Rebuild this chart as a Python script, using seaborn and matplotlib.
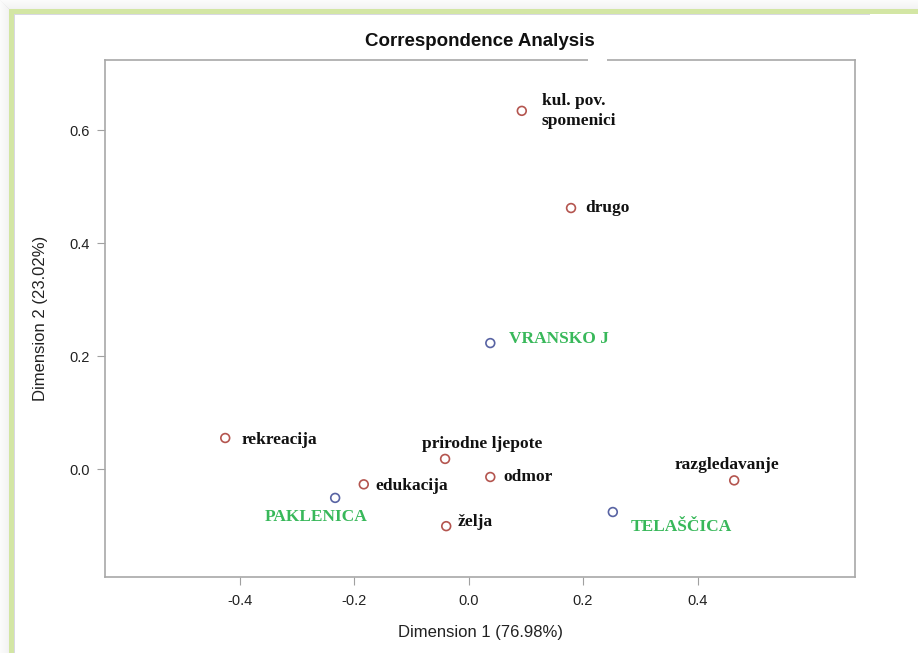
import matplotlib
matplotlib.use("Agg")
import matplotlib.pyplot as plt
from matplotlib.patches import Rectangle
import pandas as pd
import seaborn as sns

# Correspondence analysis coordinates
labels = ["kul. pov.\nspomenici", "drugo", "VRANSKO J", "rekreacija", "prirodne ljepote",
          "odmor", "edukacija", "PAKLENICA", "želja", "razgledavanje", "TELAŠČICA"]
dim1 = [0.093, 0.179, 0.038, -0.425, -0.041, 0.038, -0.183, -0.233, -0.039, 0.464, 0.252]
dim2 = [0.634, 0.462, 0.223, 0.055, 0.018, -0.014, -0.027, -0.051, -0.101, -0.020, -0.076]
kind = ["col", "col", "row", "col", "col", "col", "col", "row", "col", "col", "row"]

xticks = [-0.4, -0.2, 0.0, 0.2, 0.4]
yticks = [0.0, 0.2, 0.4, 0.6]

df = pd.DataFrame({"label": labels, "x": dim1, "y": dim2, "kind": kind})

# label placement: (dx px, dy px, horizontal alignment)
placement = {
    "kul. pov.\nspomenici": (20, 0, "left"),
    "drugo": (14, 0, "left"),
    "VRANSKO J": (19, 4, "left"),
    "rekreacija": (16, -2, "left"),
    "prirodne ljepote": (37, 15, "center"),
    "odmor": (13, 0, "left"),
    "edukacija": (12, -2, "left"),
    "PAKLENICA": (-19, -19, "center"),
    "želja": (11, 4, "left"),
    "razgledavanje": (-7, 15, "center"),
    "TELAŠČICA": (18, -15, "left"),
}

marker_colors = {"col": "#b4554f", "row": "#5863a3"}
green = "#38b85a"

sns.set_theme(style="white")
plt.rcParams["font.family"] = ["Liberation Sans", "DejaVu Sans"]

fig = plt.figure(figsize=(9.18, 6.53), dpi=100)
fig.patch.set_facecolor("white")
W, H = 918, 653
ax = fig.add_axes([105 / W, 1 - 577 / H, 750 / W, 517 / H])

sns.scatterplot(data=df, x="x", y="y", hue="kind", palette=marker_colors,
                marker="o", s=40, linewidth=1.2, legend=False, ax=ax, zorder=3)
coll = ax.collections[0]
coll.set_edgecolors(coll.get_facecolors())
coll.set_facecolors("none")

for lab, x, y, k in zip(labels, dim1, dim2, kind):
    dx, dy, ha = placement[lab]
    ax.annotate(lab, (x, y), xytext=(dx, dy), textcoords="offset pixels",
                ha=ha, va="center", fontsize=12.5, fontweight="bold",
                family=["Liberation Serif", "DejaVu Serif"],
                color=green if k == "row" else "#111111", linespacing=1.3)

ax.set_xlim(-0.635, 0.675)
ax.set_ylim(-0.191, 0.724)
ax.set_xticks(xticks)
ax.set_xticklabels([f"{v:.1f}" for v in xticks])
ax.set_yticks(yticks)
ax.set_yticklabels([f"{v:.1f}" for v in yticks])
ax.tick_params(axis="both", which="major", direction="out", length=6, width=0.8,
               color="#a0a0a0", labelsize=10.5, labelcolor="#222222",
               bottom=True, left=True)
ax.tick_params(axis="x", pad=6.5)
ax.tick_params(axis="y", pad=5)
for sp in ax.spines.values():
    sp.set_color("#a8a8a8")
    sp.set_linewidth(1.2)

ax.set_xlabel("Dimension 1 (76.98%)", fontsize=12, color="#222222", labelpad=12)
ax.set_ylabel("Dimension 2 (23.02%)", fontsize=12, color="#222222", labelpad=15)

fig.text(480 / W, 1 - 42 / H, "Correspondence Analysis", ha="center", va="center",
         fontsize=13.5, fontweight="bold", color="#111111", zorder=10)
# small break in the top frame line beside the title
fig.add_artist(Rectangle((588 / W, 1 - 63 / H), 19 / W, 6 / H, transform=fig.transFigure,
                         fc="white", ec="none", zorder=10))

# page frame: soft shadow, green border and thin inner rule
for i in range(9):
    a = 0.06 + 0.02 * i
    fig.add_artist(Rectangle((i / W, 0), 1 / W, 1 - i / H, transform=fig.transFigure,
                             fc="#c8c8c8", ec="none", alpha=a, zorder=0))
    fig.add_artist(Rectangle((i / W, 1 - (i + 1) / H), 1 - i / W, 1 / H,
                             transform=fig.transFigure, fc="#c8c8c8", ec="none",
                             alpha=a, zorder=0))
fig.add_artist(Rectangle((9 / W, 0), 5 / W, 1 - 9 / H, transform=fig.transFigure,
                         fc="#d3e6a4", ec="none", zorder=1))
fig.add_artist(Rectangle((9 / W, 1 - 14 / H), 1 - 9 / W, 5 / H, transform=fig.transFigure,
                         fc="#d3e6a4", ec="none", zorder=1))
fig.add_artist(Rectangle((14 / W, 0), 1 / W, 1 - 14 / H, transform=fig.transFigure,
                         fc="#d8d8e2", ec="none", zorder=1))
fig.add_artist(Rectangle((14 / W, 1 - 15 / H), 856 / W, 1 / H, transform=fig.transFigure,
                         fc="#d8d8e2", ec="none", zorder=1))

fig.savefig("out.png", dpi=100, facecolor="white")
